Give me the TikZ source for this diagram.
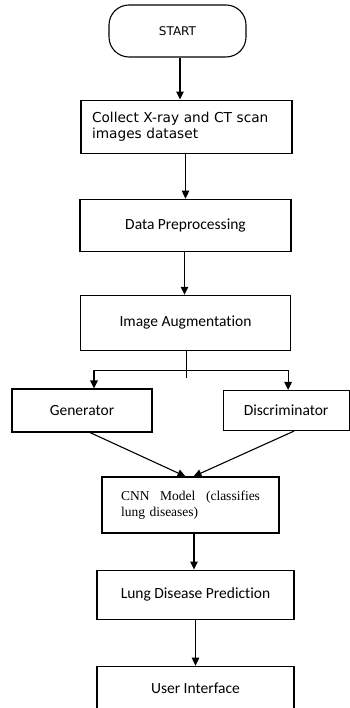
\documentclass[tikz,border=0pt]{standalone}
\usepackage{fontspec}
\setmainfont{Carlito}[Ligatures=NoCommon]
\newfontfamily\verdanafont{DejaVu Sans}
\newfontfamily\timesfont{Liberation Serif}
\usetikzlibrary{positioning,arrows.meta}

\begin{document}
\begin{tikzpicture}[x=1pt, y=-1pt, process/.style={rectangle, draw, line width=1.1pt, inner sep=2pt, font=\fontsize{15.5}{18}\selectfont}, terminal/.style={rectangle, draw, line width=1.1pt, rounded corners=20, minimum width=137pt, minimum height=52pt, font=\verdanafont\fontsize{12}{14}\selectfont}, links/.style={-{Triangle[length=8pt,width=7.5pt]}, line width=1.1pt}]

	\useasboundingbox (0,0) rectangle (349,708);

	\node[terminal] at (177.5,31) (start) {START};

	\node[process, below = 42pt of start, xshift=9pt, minimum height=53pt, text width=189pt, align=left, inner xsep=11pt, font=\verdanafont\fontsize{13.7}{16.5}\selectfont] (collect) {Collect X-ray and CT scan\\images dataset};
	\node[process, below = 45pt of collect, xshift=-1pt, minimum width=211pt, minimum height=52pt] (prep) {Data Preprocessing};
	\node[process, below = 43pt of prep, minimum width=210pt, minimum height=55pt] (aug) {Image Augmentation};

	\node[process, minimum width=140pt, minimum height=43pt] at (82,410.5) (gen) {Generator};
	\node[process, right = 70pt of gen, minimum width=126pt, minimum height=40pt] (disc) {Discriminator};

	\node[process, minimum height=56pt, text width=139pt, align=left, inner xsep=19pt, font=\timesfont\fontsize{13.5}{15.5}\selectfont] at (190.5,505) (cnn) {CNN\hfill Model\hfill (classifies\\lung diseases)\\[4pt]};

	\node[process, below = 36pt of cnn, xshift=5pt, minimum width=197pt, minimum height=49pt] (predict) {Lung Disease Prediction};
	\node[process, below = 46pt of predict, minimum width=197pt, minimum height=44pt] (ui) {User Interface};

	\coordinate[below = 27pt of aug.south, xshift=1pt] (split);

	\draw[links] ([xshift=2.5pt]start.south) -- ([xshift=2.5pt]start.south |- collect.north);
	\draw[links] (prep.north |- collect.south) -- (prep.north);
	\draw[links] ([xshift=-1pt]aug.north |- prep.south) -- ([xshift=-1pt]aug.north);

	\draw[line width=1.1pt] ([xshift=1pt]aug.south) -- (split);
	\draw[links] ([yshift=7pt]split) -| ([xshift=12pt]gen.north);
	\draw[links] ([yshift=7pt]split) -| ([xshift=2pt]disc.north);

	\draw[links] ([xshift=8pt]gen.south) -- ([xshift=-5pt]cnn.north);
	\draw[links] ([xshift=8pt]disc.south) -- ([xshift=3pt]cnn.north);

	\draw[links] ([xshift=-1.5pt]predict.north |- cnn.south) -- ([xshift=-1.5pt]predict.north);
	\draw[links] (predict) -- (ui);
\end{tikzpicture}
\end{document}
